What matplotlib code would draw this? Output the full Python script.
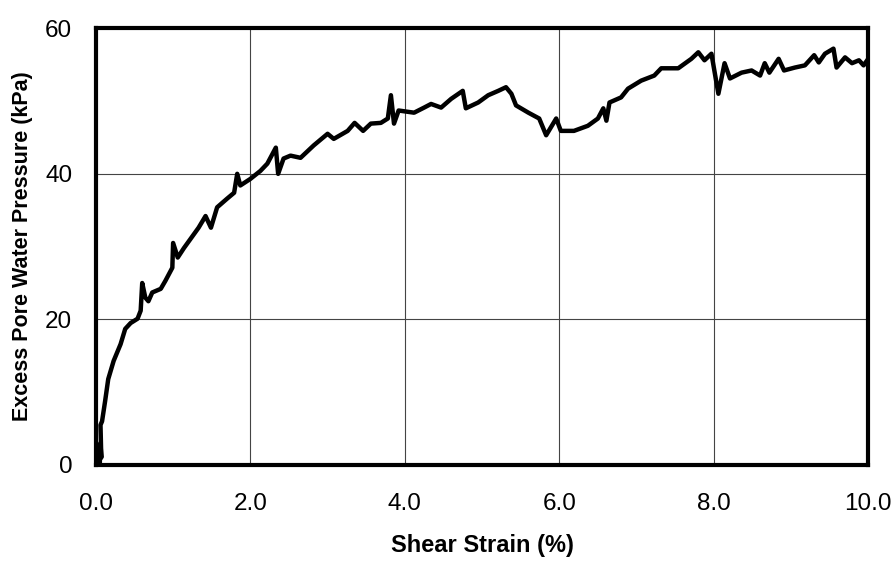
import matplotlib.pyplot as plt

plt.rcParams['font.family'] = ['Liberation Sans', 'DejaVu Sans']

strain = [0.05, 0.06, 0.07, 0.06, 0.08, 0.12, 0.16, 0.23, 0.32, 0.38, 0.45, 0.54,
          0.58, 0.60, 0.64, 0.68, 0.73, 0.84, 0.90, 0.99, 1.00, 1.06, 1.14,
          1.33, 1.42, 1.49, 1.57, 1.70, 1.79, 1.83, 1.87, 2.00, 2.13, 2.22,
          2.33, 2.36, 2.43, 2.52, 2.65, 2.82, 3.00, 3.08, 3.26, 3.35, 3.46,
          3.56, 3.69, 3.78, 3.82, 3.86, 3.92, 4.12, 4.25, 4.34, 4.47, 4.60,
          4.75, 4.79, 4.95, 5.08, 5.21, 5.31, 5.38, 5.44, 5.60, 5.74, 5.83,
          5.96, 6.02, 6.19, 6.37, 6.50, 6.57, 6.61, 6.65, 6.80, 6.89, 7.06,
          7.23, 7.32, 7.54, 7.71, 7.80, 7.88, 7.97, 8.06, 8.14, 8.21, 8.36,
          8.49, 8.60, 8.66, 8.72, 8.84, 8.91, 9.05, 9.18, 9.30, 9.36, 9.44,
          9.55, 9.59, 9.70, 9.79, 9.88, 9.94, 10.0]
pressure = [0.0, 3.0, 1.0, 5.5, 6.0, 8.8, 11.8, 14.3, 16.6, 18.7, 19.5, 20.1,
            21.2, 25.0, 23.0, 22.5, 23.7, 24.2, 25.3, 27.1, 30.5, 28.5, 29.8,
            32.6, 34.2, 32.6, 35.4, 36.6, 37.4, 40.0, 38.4, 39.3, 40.4, 41.4,
            43.6, 40.0, 42.1, 42.5, 42.2, 43.9, 45.5, 44.8, 45.9, 47.0, 45.9,
            46.9, 47.0, 47.6, 50.8, 46.9, 48.7, 48.4, 49.1, 49.6, 49.1, 50.3,
            51.4, 49.0, 49.8, 50.8, 51.4, 51.9, 51.0, 49.4, 48.4, 47.6, 45.3,
            47.6, 45.9, 45.9, 46.6, 47.6, 49.0, 47.3, 49.8, 50.5, 51.7, 52.8,
            53.5, 54.5, 54.5, 55.8, 56.7, 55.6, 56.5, 51.0, 55.2, 53.1, 53.9,
            54.2, 53.5, 55.2, 53.9, 55.8, 54.2, 54.6, 54.9, 56.3, 55.3, 56.5,
            57.2, 54.6, 56.0, 55.2, 55.6, 54.9, 55.8]

x_ticks = [0, 2, 4, 6, 8, 10]
y_ticks = [0, 20, 40, 60]

fig = plt.figure(figsize=(8.96, 5.65), dpi=100)
ax = fig.add_axes([0.107, 0.177, 0.862, 0.773])

ax.plot(strain, pressure, color='black', linewidth=3.2, solid_joinstyle='round')

ax.set_xlim(0, 10)
ax.set_ylim(0, 60)
ax.set_xticks(x_ticks)
ax.set_xticklabels([f'{t:.1f}' for t in x_ticks])
ax.set_yticks(y_ticks)
ax.tick_params(length=0, labelsize=17.5)
ax.tick_params(axis='x', pad=20)
ax.tick_params(axis='y', pad=17)
ax.grid(True, color='#444444', linewidth=0.8)
ax.set_axisbelow(True)
for s in ax.spines.values():
    s.set_linewidth(3)

ax.set_xlabel('Shear Strain (%)', fontsize=17, fontweight='bold', labelpad=14)
ax.set_ylabel('Excess Pore Water Pressure (kPa)', fontsize=15.5, fontweight='bold', labelpad=9)

fig.savefig('out.png', dpi=100)
